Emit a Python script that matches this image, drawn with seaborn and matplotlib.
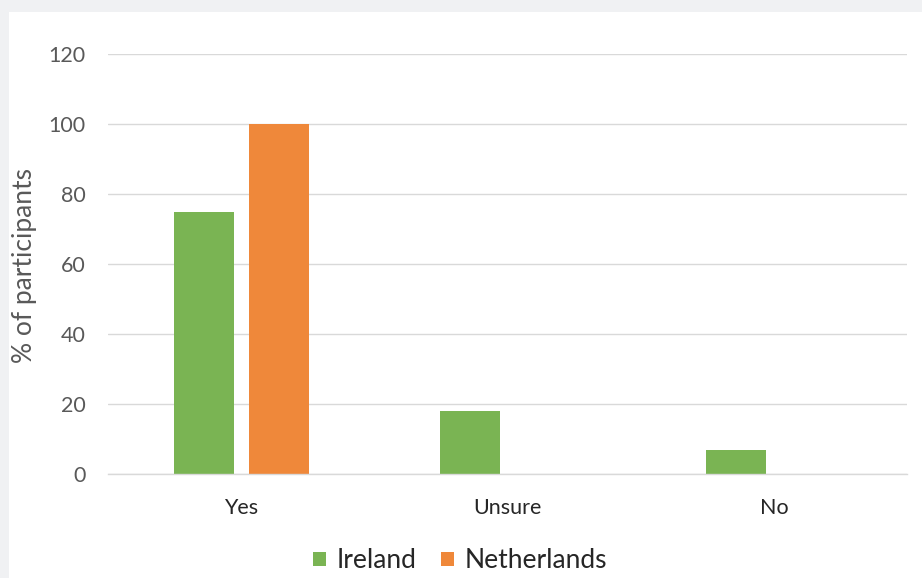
import matplotlib
matplotlib.use("Agg")
import matplotlib.pyplot as plt
from matplotlib.patches import Rectangle
import seaborn as sns
import pandas as pd

categories = ["Yes", "Unsure", "No"]
ireland = [75, 18, 7]
netherlands = [100, 0, 0]
series_names = ["Ireland", "Netherlands"]
y_ticks = [0, 20, 40, 60, 80, 100, 120]

rows = []
for c, v in zip(categories, ireland):
    rows.append({"Response": c, "Country": series_names[0], "Value": v})
for c, v in zip(categories, netherlands):
    rows.append({"Response": c, "Country": series_names[1], "Value": v})
df = pd.DataFrame(rows)

sns.set_theme(style="white")
plt.rcParams["font.family"] = ["Lato", "DejaVu Sans"]

W, H = 922, 578
fig = plt.figure(figsize=(W / 100, H / 100), dpi=100)
fig.patch.set_facecolor("#f0f1f3")
fig.patches.append(Rectangle((9 / W, 0), 1 - 9 / W, 1 - 12 / H,
                             transform=fig.transFigure, facecolor="white",
                             edgecolor="none", zorder=-10))

ax = fig.add_axes([108 / W, 1 - 474 / H, (907 - 108) / W, (474 - 54) / H])
ax.set_zorder(1)
ax.set_facecolor("none")

palette = {"Ireland": "#7AB453", "Netherlands": "#EF883A"}
sns.barplot(data=df, x="Response", y="Value", hue="Country", order=categories,
            hue_order=series_names, palette=palette, width=0.5625, gap=0.2,
            saturation=1, ax=ax, legend=False, edgecolor="none")

ax.set_xlim(-0.5, 2.5)
ax.set_ylim(0, 120)
ax.set_yticks(y_ticks)
ax.set_yticklabels([str(t) for t in y_ticks])
ax.yaxis.grid(True, color="#d9d9d9", linewidth=1)
ax.set_axisbelow(True)
for s in ["top", "right", "left"]:
    ax.spines[s].set_visible(False)
ax.spines["bottom"].set_color("#d9d9d9")
ax.spines["bottom"].set_linewidth(1)
ax.tick_params(axis="y", length=0, pad=16, labelsize=15.5, labelcolor="#595959")
ax.tick_params(axis="x", length=0, pad=17, labelsize=15.5, labelcolor="#262626")
ax.set_xlabel("")
ax.set_ylabel("% of participants", fontsize=19, color="#595959")
ax.yaxis.set_label_coords(37 / W, 1 - 266 / H, transform=fig.transFigure)

handles = [Rectangle((0, 0), 1, 1, facecolor=palette[n], edgecolor="none") for n in series_names]
fig.legend(handles, series_names, loc="center", bbox_to_anchor=(460 / W, 1 - 561 / H),
           ncol=2, frameon=False, fontsize=19, handlelength=0.48, handleheight=0.48,
           handletextpad=0.4, columnspacing=0.95, labelcolor="#262626")

fig.savefig("out.png", dpi=100, facecolor=fig.get_facecolor())
